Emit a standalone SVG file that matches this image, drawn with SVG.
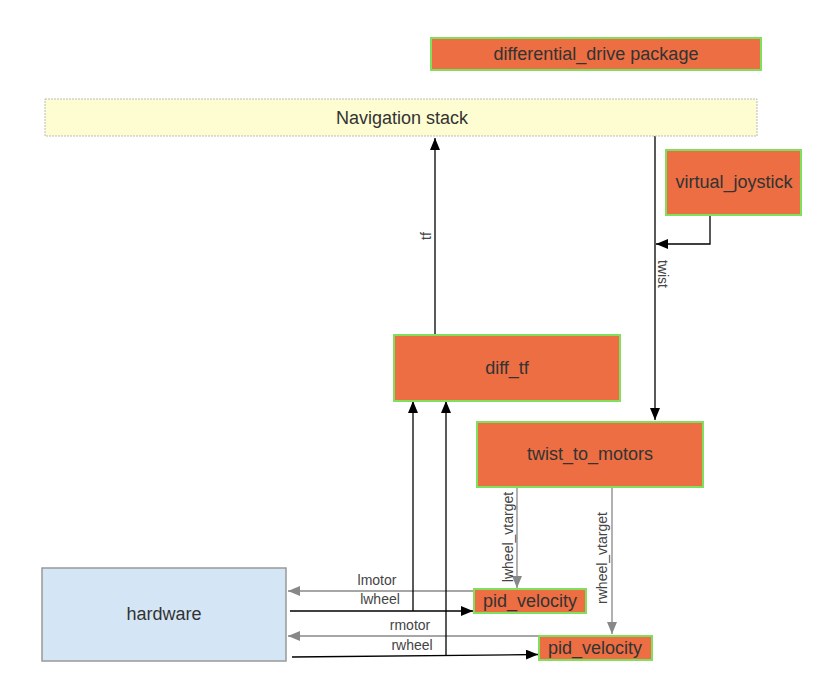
<svg xmlns="http://www.w3.org/2000/svg" width="822" height="674" viewBox="0 0 822 674">
<defs>
<style>
.node{fill:#ec6e42;stroke:#7ee05c;stroke-width:2}
.t{font-family:"Liberation Sans",Arial,sans-serif;font-size:18px;fill:#333;text-anchor:middle;dominant-baseline:central}
.s{font-family:"Liberation Sans",Arial,sans-serif;font-size:14px;fill:#444;text-anchor:middle}
.b{stroke:#000;stroke-width:1.3;fill:none}
.g{stroke:#888;stroke-width:1.3;fill:none}
</style>
<marker id="ab" viewBox="0 0 12 10" refX="12" refY="5" markerWidth="12" markerHeight="10" markerUnits="userSpaceOnUse" orient="auto"><path d="M0,0 L12,5 L0,10 Z" fill="#000"/></marker>
<marker id="ag" viewBox="0 0 12 10" refX="12" refY="5" markerWidth="12" markerHeight="10" markerUnits="userSpaceOnUse" orient="auto"><path d="M0,0 L12,5 L0,10 Z" fill="#888"/></marker>
</defs>
<rect width="822" height="674" fill="#fff"/>
<g id="connectors">
<path class="b" d="M435,335 V138" marker-end="url(#ab)"/>
<text class="s" font-size="16" transform="translate(431,236) rotate(-90)">tf</text>
<path class="b" d="M655,136 V420" marker-end="url(#ab)"/>
<path class="b" d="M710,215 V244 H656" marker-end="url(#ab)"/>
<text class="s" font-size="18" transform="translate(658,274) rotate(90)">twist</text>
<path class="g" d="M517,487 V588" marker-end="url(#ag)"/>
<text class="s" transform="translate(513,537) rotate(-90)">lwheel_vtarget</text>
<path class="g" d="M612,487 V634" marker-end="url(#ag)"/>
<text class="s" transform="translate(607,558) rotate(-90)">rwheel_vtarget</text>
<path class="g" d="M474,591 H288" marker-end="url(#ag)"/>
<text class="s" x="377" y="585">lmotor</text>
<path class="b" d="M290,611 H473" marker-end="url(#ab)"/>
<text class="s" x="380" y="604">lwheel</text>
<path class="b" d="M413,611 V401" marker-end="url(#ab)"/>
<path class="g" d="M538,636 H288" marker-end="url(#ag)"/>
<text class="s" x="410" y="630">rmotor</text>
<path class="b" d="M292,657 L538,654.5" marker-end="url(#ab)"/>
<text class="s" x="412" y="650">rwheel</text>
<path class="b" d="M446,655 V401" marker-end="url(#ab)"/>
</g>
<g id="pkg"><rect class="node" x="431" y="38" width="330" height="32"/><text class="t" x="596" y="54">differential_drive package</text></g>
<g id="nav"><rect x="45" y="99" width="712" height="37" fill="#fefdd2" stroke="#bbb" stroke-width="1" stroke-dasharray="2,1"/><text class="t" x="402" y="118">Navigation stack</text></g>
<g id="joy"><rect class="node" x="666" y="150" width="135" height="65"/><text class="t" x="734" y="182">virtual_joystick</text></g>
<g id="difftf"><rect class="node" x="394" y="335" width="226" height="66"/><text class="t" x="507" y="368">diff_tf</text></g>
<g id="t2m"><rect class="node" x="477" y="422" width="226" height="65"/><text class="t" x="590" y="454">twist_to_motors</text></g>
<g id="hw"><rect x="42" y="568" width="244" height="93" fill="#d4e6f5" stroke="#999" stroke-width="1.5"/><text class="t" x="164" y="614">hardware</text></g>
<g id="pid1"><rect class="node" x="474" y="589" width="112" height="24"/><text class="t" x="530" y="601">pid_velocity</text></g>
<g id="pid2"><rect class="node" x="539" y="636" width="113" height="24"/><text class="t" x="595" y="648">pid_velocity</text></g>
</svg>
